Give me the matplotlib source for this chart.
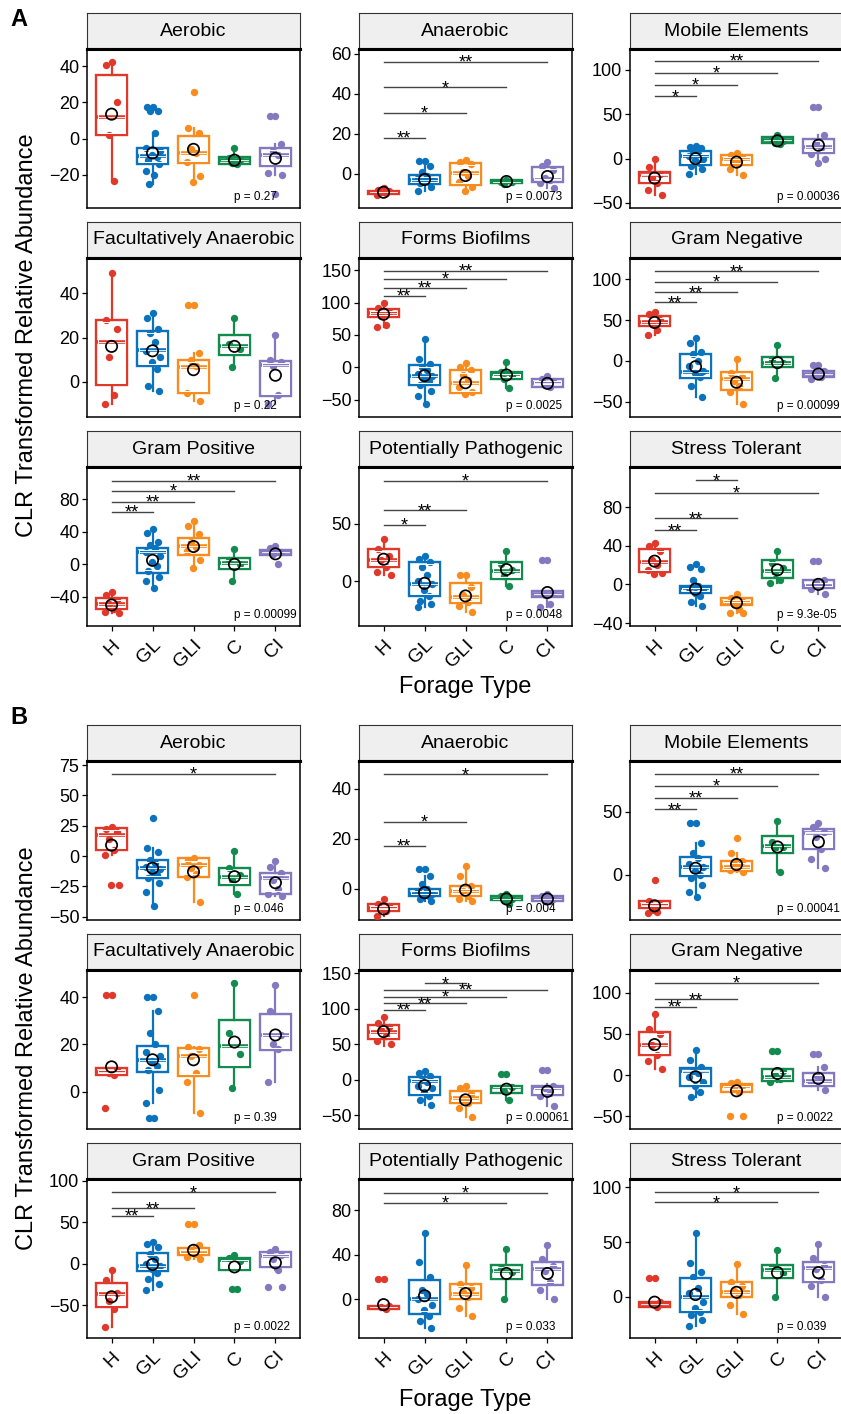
import numpy as np
import matplotlib.pyplot as plt
from matplotlib.patches import Rectangle
from matplotlib.transforms import blended_transform_factory

plt.rcParams['font.family'] = ['Liberation Sans', 'DejaVu Sans']

groups = ['H', 'GL', 'GLI', 'C', 'CI']
colors = ['#E0382B', '#0B72BE', '#F98C1E', '#138B4F', '#8479C0']
titles = ['Aerobic', 'Anaerobic', 'Mobile Elements',
          'Facultatively Anaerobic', 'Forms Biofilms', 'Gram Negative',
          'Gram Positive', 'Potentially Pathogenic', 'Stress Tolerant']

# ---------------- Panel A ----------------
# box stats per group: [whisker low, q1, median, q3, whisker high]
a_aer_box = [[-23.5, 2, 11.7, 35.2, 42.6], [-25, -14, -9.6, -5, 3], [-22, -13.5, -8, 1.5, 6],
             [-15, -14, -12, -10.5, -6], [-20, -15.5, -9, -5, -3]]
a_aer_mean = [13.5, -8, -6, -12, -11]
a_aer_pts = [[42.5, 40.5, 20, 2, -23.5],
             [17.5, 17.5, 15, 15, 3, -5, -7, -9, -10, -12, -14, -18, -20, -25],
             [25.5, 6, 3, -6, -8, -13, -21, -24],
             [-5.5, -11, -12, -13.5, -14],
             [12.5, 12.5, -3, -7, -9, -19, -20, -31]]
a_aer_sig = []

a_ana_box = [[-11, -10.3, -9.5, -8.7, -7.5], [-9, -5.5, -3, -0.5, 6.5], [-9, -6, 0.3, 5.5, 7.5],
             [-5.5, -4.8, -4, -3.3, -2.8], [-7.5, -4, -3, 3.5, 6]]
a_ana_mean = [-9.4, -3, -1, -4, -1.5]
a_ana_pts = [[-7.5, -8.5, -9, -9.5, -10, -11],
             [6.5, 6.5, 4, 1, -1, -2, -3, -3.5, -4, -5, -7, -9],
             [7, 6, 5, 1, -1, -4, -7, -9],
             [-3, -4, -4.5, -5.5],
             [6, 4, 2, -2, -3, -5, -7.5]]
a_ana_sig = [(0, 1, '**', 17.8), (0, 2, '*', 30.6), (0, 3, '*', 43.2), (0, 4, '**', 56.2)]

a_mob_box = [[-41, -28, -19, -15, -1], [-17, -7, 3, 8, 14], [-18, -7, -1, 4, 6],
             [16, 17, 21, 24, 27], [-5, 6, 13, 22, 27]]
a_mob_mean = [-22, 0, -4, 20, 15]
a_mob_pts = [[-1, -10, -17, -22, -28, -35, -41],
             [14, 13, 12, 8, 5, 3, 0, -2, -5, -8, -12, -17],
             [6, 4, 2, -3, -5, -12, -18],
             [27, 22, 20, 17, 16],
             [58, 58, 27, 17, 12, 5, 0, -5]]
a_mob_sig = [(0, 1, '*', 70.2), (0, 2, '*', 83.4), (0, 3, '*', 96.6), (0, 4, '**', 109.8)]

a_fac_box = [[-10, -1.5, 18, 28, 49], [-4, 7, 14.5, 23, 31], [-8.5, -5, 6.5, 10, 13],
             [6.5, 12, 16, 21, 29], [-10, -6.5, 7.5, 9.5, 21]]
a_fac_mean = [16, 14, 5.5, 16, 3]
a_fac_pts = [[49, 28, 24, 11, -6, -10],
             [31, 29, 24, 22, 18, 14, 11, 9, 6, -2, -4],
             [34.5, 34.5, 13, 10, 7, -5, -8.5],
             [29, 17, 15, 6.5],
             [21, 10, 9, 7, -6, -10]]
a_fac_sig = []

a_bio_box = [[62, 78, 84, 90, 99], [-57, -28, -13, 3, 43], [-42, -40, -25, -5, 7],
             [-32, -18, -10, -7, 8], [-30, -30, -24, -18, -14]]
a_bio_mean = [82, -13, -24, -12, -25]
a_bio_pts = [[99, 92, 85, 80, 65, 62],
             [43, 12, 5, 0, -5, -10, -14, -18, -22, -28, -36, -45, -57],
             [7, 0, -5, -12, -20, -30, -38, -42],
             [8, -7, -12, -18, -32],
             [-14, -18, -22, -26, -30]]
a_bio_sig = [(0, 1, '**', 110.4), (0, 2, '**', 123.3), (0, 3, '*', 136.3), (0, 4, '**', 149)]

a_neg_box = [[32, 43, 48, 55, 60], [-44, -21, -14, 9, 28], [-53, -35, -22, -13, 3],
             [-21, -7, -2, 5, 19], [-22, -20, -16, -12, -5]]
a_neg_mean = [47, -7, -26, -2, -16]
a_neg_pts = [[60, 57, 50, 45, 38, 32],
             [28, 22, 11, 8, 0, -6, -12, -15, -20, -30, -44],
             [3, -15, -20, -25, -30, -38, -53],
             [19, 3, -3, -21],
             [-5, -5, -12, -16, -20, -22]]
a_neg_sig = [(0, 1, '**', 71.4), (0, 2, '**', 84), (0, 3, '*', 96.7), (0, 4, '**', 109.4)]

a_pos_box = [[-60, -55, -49, -41, -35], [-29, -10, 15, 20, 43], [-5, 12, 23, 33, 53],
             [-21, -6, 2, 8, 19], [12, 12, 15, 18, 23]]
a_pos_mean = [-50, 5, 22, 0, 13]
a_pos_pts = [[-34, -38, -44, -49, -55, -58, -60],
             [43, 38, 27, 24, 20, 15, 10, 3, -2, -8, -15, -20, -29],
             [53, 47, 37, 28, 22, 17, 5, -5],
             [19, 5, 0, -21],
             [23, 20, 15, 13, 0]]
a_pos_sig = [(0, 1, '**', 64.4), (0, 2, '**', 77.1), (0, 3, '*', 90.2), (0, 4, '**', 102.9)]

a_pat_box = [[5, 12, 18, 28, 37], [-23, -13, -3, 17, 22], [-27, -19, -14, -2, 5],
             [-4, 2, 9, 17, 26], [-23, -14, -11, -9, -9]]
a_pat_mean = [19, -2, -13, 10, -10]
a_pat_pts = [[37, 28, 22, 18, 12, 8, 5],
             [22, 19, 17, 12, 5, 0, -3, -8, -13, -17, -20, -23],
             [5, 5, -5, -12, -18, -22, -27],
             [26, 15, 10, 4, -4],
             [18, 18, -10, -12, -20, -23]]
a_pat_sig = [(0, 1, '*', 48.8), (0, 2, '**', 61.6), (0, 4, '*', 87.5)]

a_str_box = [[11, 13, 23, 37, 43], [-22, -9, -4, -2, 5], [-30, -21, -18, -14, -10],
             [1, 7, 14, 25, 35], [-10, -4, -2, 4, 5]]
a_str_mean = [24, -5, -19, 15, 0]
a_str_pts = [[43, 40, 34, 25, 20, 15, 12, 11],
             [21, 18, 16, 5, -2, -4, -6, -9, -12, -18, -22],
             [-10, -14, -17, -20, -25, -30, -30],
             [35, 22, 17, 12, 5, 1],
             [24, 24, 5, 2, -2, -5, -10]]
a_str_sig = [(0, 1, '**', 55.9), (0, 2, '**', 68.3), (0, 4, '*', 94.5), (1, 2, '*', 107.6)]

a_ylims = [(-38.5, 49.6), (-17.3, 62.5), (-55.7, 123.4),
           (-15.8, 55.8), (-77, 169), (-68.4, 125.7),
           (-75.8, 119.8), (-39.2, 99.4), (-43.1, 121.4)]
a_yticks = [[-20, 0, 20, 40], [0, 20, 40, 60], [-50, 0, 50, 100],
            [0, 20, 40], [-50, 0, 50, 100, 150], [-50, 0, 50, 100],
            [-40, 0, 40, 80], [0, 50], [-40, 0, 40, 80]]
a_pvals = ['p = 0.27', 'p = 0.0073', 'p = 0.00036',
           'p = 0.22', 'p = 0.0025', 'p = 0.00099',
           'p = 0.00099', 'p = 0.0048', 'p = 9.3e-05']

# ---------------- Panel B ----------------
b_aer_box = [[1, 5, 17, 23, 24], [-41, -18, -10, -3, 7], [-38, -17, -7, -2, -1],
             [-31, -24, -17, -10, 4], [-33, -31, -18, -14, -4]]
b_aer_mean = [9, -10, -13, -17, -22]
b_aer_pts = [[24, 22, 20, 14, 5, 1, -24, -24],
             [31, 7, 3, -3, -6, -9, -11, -13, -16, -18, -22, -30, -41],
             [-2, -3, -7, -10, -15, -17, -38],
             [4, -10, -16, -20, -31],
             [-4, -9, -14, -20, -27, -31, -33]]
b_aer_sig = [(0, 4, '*', 68)]

b_ana_box = [[-11, -9, -7.5, -6, -4], [-5, -3, -2, 0, 5], [-5, -3, -1, 1, 9],
             [-6, -4.5, -4, -3, -2], [-5, -5, -4, -3, -2]]
b_ana_mean = [-8, -1.5, -0.5, -4, -4]
b_ana_pts = [[-4, -6, -7, -8, -9, -11],
             [8, 8, 5, 2, 0, -1, -2, -2.5, -3, -4, -5],
             [9, 5, 1, -1, -3, -4, -5],
             [-2, -3, -4, -4.5, -6],
             [-2, -3, -4, -5, -5]]
b_ana_sig = [(0, 1, '**', 17.1), (0, 2, '*', 26.7), (0, 4, '*', 45.7)]

b_mob_box = [[-31, -27, -24, -21, -21], [-18, -1, 6, 14, 25], [2, 3, 6, 11, 17],
             [2, 17, 23, 31, 43], [5, 20, 33, 36, 41]]
b_mob_mean = [-25, 5, 8, 22, 26]
b_mob_pts = [[-4, -21, -24, -28, -30, -31],
             [41, 41, 25, 17, 13, 8, 6, 3, 0, -3, -8, -14, -18],
             [29, 17, 11, 8, 6, 4, 2],
             [43, 26, 22, 21, 2],
             [41, 38, 34, 30, 20, 12, 5]]
b_mob_sig = [(0, 1, '**', 52), (0, 2, '**', 61.4), (0, 3, '*', 70.6), (0, 4, '**', 80.3)]

b_fac_box = [[7, 7, 8.5, 10, 10], [-5, 8.5, 13.5, 19.5, 34], [-9, 6.5, 15, 18.5, 19],
             [1.5, 10.5, 19.5, 30.5, 46], [4, 17.5, 24, 33, 45]]
b_fac_mean = [10.5, 13.5, 13.5, 21, 24]
b_fac_pts = [[41, 41, 9, 8, 7, -7],
             [40, 40, 34, 25, 20, 17, 15, 13, 11, 9, 0.5, -5, -11, -11],
             [41, 19, 18, 15, 8, 4, -9],
             [46, 25, 16, 1.5],
             [45, 34, 24, 20, 18, 4]]
b_fac_sig = []

b_bio_box = [[48, 58, 68, 78, 89], [-35, -21, -2, 4, 13], [-52, -32, -25, -16, -8],
             [-28, -18, -10, -9, -8], [-37, -21, -12, -8, -5]]
b_bio_mean = [68, -8, -28, -13, -16]
b_bio_pts = [[89, 80, 75, 70, 62, 55, 50],
             [13, 10, 5, 0, -3, -8, -12, -17, -22, -28, -35],
             [-8, -12, -20, -27, -33, -40, -52],
             [8, 8, -10, -15, -28],
             [14, 14, -8, -12, -18, -22, -37]]
b_bio_sig = [(0, 1, '**', 98.6), (0, 2, '**', 108), (0, 3, '*', 117.3),
             (0, 4, '**', 126.6), (1, 2, '*', 136)]

b_neg_box = [[7, 24, 37, 52, 74], [-27, -13, 5, 9, 30], [-20, -20, -13, -11, -8],
             [-8, -7, -2, 7, 7], [-18, -13, -7, 3, 10]]
b_neg_mean = [37, -2, -19, 2, -4]
b_neg_pts = [[74, 56, 50, 37, 24, 17, 7],
             [30, 18, 10, 5, 2, -2, -8, -13, -20, -27],
             [-8, -10, -13, -16, -20, -50, -50],
             [29, 29, 5, 0, -5, -8],
             [26, 26, 10, 0, -5, -10, -18]]
b_neg_sig = [(0, 1, '**', 83), (0, 2, '**', 91.9), (0, 4, '*', 112)]

b_pos_box = [[-76, -52, -37, -23, -9], [-32, -9, -3, 13, 26], [5, 10, 13, 19, 22],
             [-8, -8, 4, 7, 10], [-8, -4, 9, 14, 18]]
b_pos_mean = [-40, -1, 16, -4, 1]
b_pos_pts = [[-8, -20, -35, -45, -55, -76],
             [26, 24, 20, 12, 5, 0, -3, -7, -11, -18, -25, -32],
             [48, 48, 22, 15, 12, 8, 5],
             [10, 7, 3, -31, -31],
             [18, 14, 10, 5, -8, -28, -28]]
b_pos_sig = [(0, 1, '**', 57.5), (0, 2, '**', 66.8), (0, 4, '*', 85.8)]

b_pat_box = [[-9, -9, -7.5, -6, -6], [-26, -13, 0, 17, 59], [-15, 0, 5, 14, 31],
             [0, 18, 25, 31, 45], [0, 13, 27, 33, 49]]
b_pat_mean = [-5, 3, 5, 23, 23]
b_pat_pts = [[18, 18, -6, -7, -9],
             [59, 33, 20, 8, 5, 0, -5, -10, -15, -20, -26],
             [31, 14, 10, 6, 2, -8, -15],
             [45, 28, 24, 0],
             [49, 36, 30, 25, 15, 8, 0]]
b_pat_sig = [(0, 3, '*', 86.7), (0, 4, '*', 95.8)]

b_str_box = [[-9, -9, -7, -5, -5], [-27, -14, 0, 17, 58], [-16, 0, 4, 13, 30],
             [0, 17, 24, 29, 43], [0, 13, 26, 32, 48]]
b_str_mean = [-5, 2, 4, 22, 22]
b_str_pts = [[17, 17, -5, -7, -9],
             [58, 31, 23, 18, 8, 3, -5, -10, -14, -17, -21, -27],
             [30, 13, 10, 5, 2, -8, -16],
             [43, 27, 22, 0],
             [48, 35, 28, 25, 15, 10, 0]]
b_str_sig = [(0, 3, '*', 86.2), (0, 4, '*', 95.4)]

b_ylims = [(-52.7, 78.3), (-12.4, 51), (-36.3, 90.6),
           (-15.8, 51.5), (-69, 154.7), (-65.3, 127.4),
           (-89.7, 102), (-35, 108), (-37.8, 107.7)]
b_yticks = [[-50, -25, 0, 25, 50, 75], [0, 20, 40], [0, 50],
            [0, 20, 40], [-50, 0, 50, 100, 150], [-50, 0, 50, 100],
            [-50, 0, 50, 100], [0, 40, 80], [0, 50, 100]]
b_pvals = ['p = 0.046', 'p = 0.004', 'p = 0.00041',
           'p = 0.39', 'p = 0.00061', 'p = 0.0022',
           'p = 0.0022', 'p = 0.033', 'p = 0.039']

panels_A = [(a_aer_box, a_aer_mean, a_aer_pts, a_aer_sig),
            (a_ana_box, a_ana_mean, a_ana_pts, a_ana_sig),
            (a_mob_box, a_mob_mean, a_mob_pts, a_mob_sig),
            (a_fac_box, a_fac_mean, a_fac_pts, a_fac_sig),
            (a_bio_box, a_bio_mean, a_bio_pts, a_bio_sig),
            (a_neg_box, a_neg_mean, a_neg_pts, a_neg_sig),
            (a_pos_box, a_pos_mean, a_pos_pts, a_pos_sig),
            (a_pat_box, a_pat_mean, a_pat_pts, a_pat_sig),
            (a_str_box, a_str_mean, a_str_pts, a_str_sig)]
panels_B = [(b_aer_box, b_aer_mean, b_aer_pts, b_aer_sig),
            (b_ana_box, b_ana_mean, b_ana_pts, b_ana_sig),
            (b_mob_box, b_mob_mean, b_mob_pts, b_mob_sig),
            (b_fac_box, b_fac_mean, b_fac_pts, b_fac_sig),
            (b_bio_box, b_bio_mean, b_bio_pts, b_bio_sig),
            (b_neg_box, b_neg_mean, b_neg_pts, b_neg_sig),
            (b_pos_box, b_pos_mean, b_pos_pts, b_pos_sig),
            (b_pat_box, b_pat_mean, b_pat_pts, b_pat_sig),
            (b_str_box, b_str_mean, b_str_pts, b_str_sig)]

# deterministic horizontal spread of the dots
jit = [0.0, -0.13, 0.13, -0.06, 0.07, -0.17, 0.17, -0.02, 0.1, -0.1, 0.15, -0.15, 0.04, -0.08]

W, H = 841, 1414
fig = plt.figure(figsize=(W / 100, H / 100), dpi=100)
col_x = [87, 359, 630]
pw = 213
strip_h = 36
plot_h = 159
row_tops = {'A': [13, 222, 431], 'B': [725, 934, 1143]}


def px_axes(x, y, w, h):
    return fig.add_axes([x / W, 1 - (y + h) / H, w / W, h / H])


def draw_panel(ax, box, means, pts, sig, ylim, yticks, ptxt, bottom_row):
    eps = 2.2 * (ylim[1] - ylim[0]) / plot_h
    for i, c in enumerate(colors):
        x = i + 1
        b = box[i]
        st = [dict(whislo=b[0], q1=b[1], med=b[2], q3=b[3], whishi=b[4], fliers=[])]
        ax.bxp(st, positions=[x], widths=0.75, showcaps=False, showfliers=False,
               patch_artist=True, manage_ticks=False, zorder=2,
               boxprops=dict(facecolor='white', edgecolor=c, linewidth=1.7),
               whiskerprops=dict(color=c, linewidth=1.6),
               medianprops=dict(color=c, linewidth=2.6))
        xs = [x + jit[k % len(jit)] for k in range(len(pts[i]))]
        ax.scatter(xs, pts[i], s=28, color=c, linewidths=0, zorder=3)
        if b[3] - b[1] > 3 * eps:
            ax.add_patch(Rectangle((x - 0.32, b[1] + eps), 0.64, b[3] - b[1] - 2 * eps,
                                   fill=False, ec='white', lw=0.7, zorder=4))
        ax.plot([x - 0.32, x + 0.32], [b[2], b[2]], color='white', lw=0.6, zorder=4)
        ax.scatter([x], [means[i]], s=66, facecolors='none', edgecolors='black',
                   linewidths=1.25, zorder=5)
    for (i, j, lab, y) in sig:
        ax.plot([i + 1, j + 1], [y, y], color='#444444', lw=1.0, zorder=1)
        ax.annotate(lab, ((i + j) / 2 + 1, y), xytext=(0, -4.2), textcoords='offset points',
                    ha='center', va='baseline', fontsize=13)
    trans = blended_transform_factory(ax.transData, ax.transAxes)
    ax.text(4.0, 0.05, ptxt, transform=trans, ha='left', va='baseline', fontsize=8.5)
    ax.set_xlim(0.4, 5.6)
    ax.set_ylim(*ylim)
    ax.set_yticks(yticks)
    ax.set_yticklabels([str(t).replace('-', '\u2212') for t in yticks], fontsize=13)
    for s in ax.spines.values():
        s.set_linewidth(1.1)
        s.set_color('black')
    ax.spines['top'].set_linewidth(2.2)
    ax.tick_params(axis='y', length=3.5, width=0.9, pad=2)
    if bottom_row:
        ax.set_xticks(range(1, 6))
        ax.set_xticklabels(groups, rotation=45, ha='right', va='top',
                           rotation_mode='anchor', fontsize=14)
        ax.tick_params(axis='x', length=3.5, width=0.9, pad=4)
    else:
        ax.set_xticks([])


def draw_block(key, panels, ylims, yticks, pvals):
    for n, (box, means, pts, sig) in enumerate(panels):
        r, cidx = divmod(n, 3)
        top = row_tops[key][r]
        x0 = col_x[cidx]
        sax = px_axes(x0, top, pw, strip_h)
        sax.set_facecolor('#EFEFEF')
        sax.set_xticks([])
        sax.set_yticks([])
        for s in sax.spines.values():
            s.set_color('#333333')
            s.set_linewidth(0.8)
        sax.spines['bottom'].set_linewidth(2.2)
        sax.spines['bottom'].set_color('black')
        sax.text(0.5, 0.5, titles[n], ha='center', va='center', fontsize=14,
                 transform=sax.transAxes)
        ax = px_axes(x0, top + strip_h, pw, plot_h)
        draw_panel(ax, box, means, pts, sig, ylims[n], yticks[n], pvals[n], r == 2)


draw_block('A', panels_A, a_ylims, a_yticks, a_pvals)
draw_block('B', panels_B, b_ylims, b_yticks, b_pvals)

fig.text(10 / W, 1 - 20 / H, 'A', fontsize=17, fontweight='bold', va='center', ha='left')
fig.text(10 / W, 1 - 717 / H, 'B', fontsize=17, fontweight='bold', va='center', ha='left')
for yc in [335, 1048]:
    fig.text(27 / W, 1 - yc / H, 'CLR Transformed Relative Abundance', rotation=90,
             fontsize=17, va='center', ha='center')
for yc in [687, 1400]:
    fig.text(465 / W, 1 - yc / H, 'Forage Type', fontsize=17, va='center', ha='center')

fig.savefig('out.png', dpi=100)
